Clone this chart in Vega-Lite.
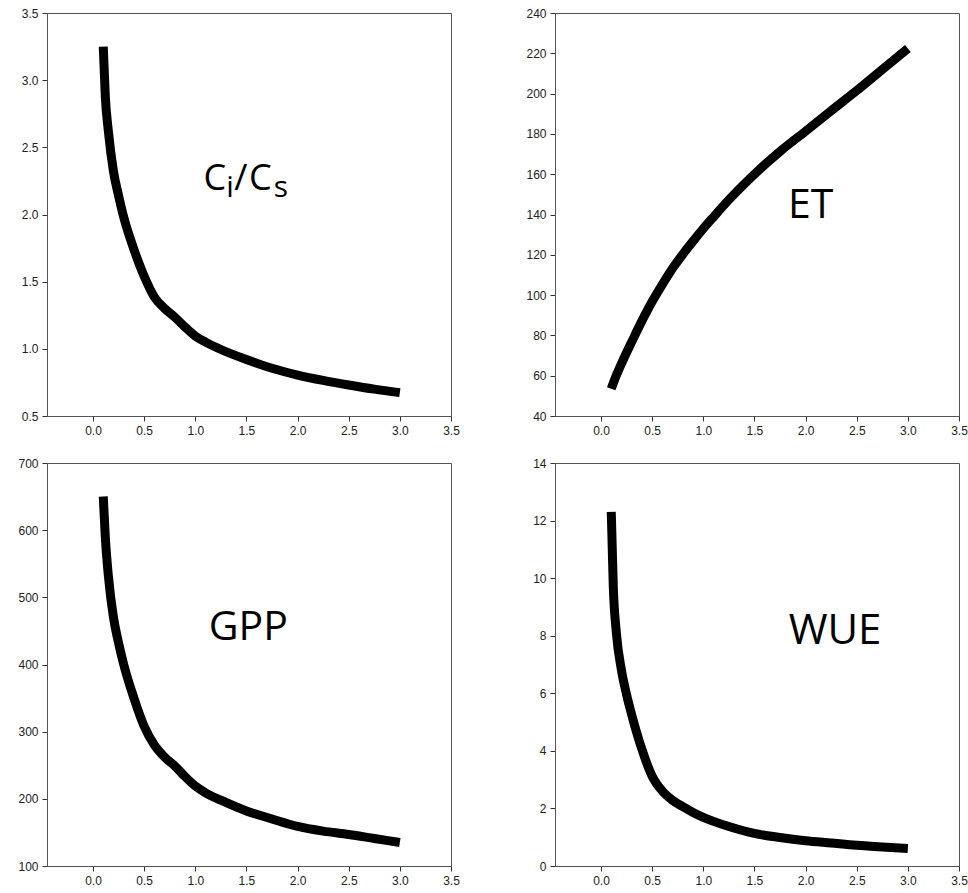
{
  "$schema": "https://vega.github.io/schema/vega-lite/v6.json",
  "background": "white",
  "padding": {"left": 17, "top": 6, "right": 0, "bottom": 0},
  "datasets": {
    "curves": [
      {"x": 0.1, "cics": 3.25, "gpp": 650, "et": 53.5, "wue": 12.3},
      {"x": 0.12, "cics": 2.88, "gpp": 590, "et": 56.3, "wue": 9.7},
      {"x": 0.15, "cics": 2.62, "gpp": 532, "et": 60.2, "wue": 8.1},
      {"x": 0.2, "cics": 2.32, "gpp": 470, "et": 66, "wue": 6.8},
      {"x": 0.25, "cics": 2.14, "gpp": 432, "et": 71.5, "wue": 5.95},
      {"x": 0.3, "cics": 1.98, "gpp": 400, "et": 76.8, "wue": 5.25},
      {"x": 0.4, "cics": 1.74, "gpp": 350, "et": 87.2, "wue": 4.05},
      {"x": 0.5, "cics": 1.54, "gpp": 308, "et": 96.8, "wue": 3.12},
      {"x": 0.6, "cics": 1.385, "gpp": 280, "et": 105.3, "wue": 2.6},
      {"x": 0.7, "cics": 1.3, "gpp": 262, "et": 113.3, "wue": 2.28},
      {"x": 0.8, "cics": 1.235, "gpp": 249, "et": 120.3, "wue": 2.06},
      {"x": 0.9, "cics": 1.162, "gpp": 233, "et": 126.8, "wue": 1.86},
      {"x": 1.0, "cics": 1.095, "gpp": 219, "et": 133, "wue": 1.69},
      {"x": 1.1, "cics": 1.05, "gpp": 209, "et": 138.8, "wue": 1.55},
      {"x": 1.25, "cics": 0.995, "gpp": 198, "et": 147.3, "wue": 1.37},
      {"x": 1.5, "cics": 0.92, "gpp": 182, "et": 160, "wue": 1.13},
      {"x": 1.75, "cics": 0.855, "gpp": 170, "et": 171.3, "wue": 0.99},
      {"x": 2.0, "cics": 0.805, "gpp": 159, "et": 181.3, "wue": 0.88},
      {"x": 2.25, "cics": 0.765, "gpp": 152, "et": 191.5, "wue": 0.8},
      {"x": 2.5, "cics": 0.731, "gpp": 147, "et": 201.5, "wue": 0.72},
      {"x": 2.75, "cics": 0.7, "gpp": 141, "et": 212, "wue": 0.66},
      {"x": 3.0, "cics": 0.674, "gpp": 135, "et": 222.4, "wue": 0.61}
    ]
  },
  "columns": 2,
  "spacing": {"row": 47, "column": 104},
  "bounds": "flush",
  "concat": [
    {
      "width": 404, "height": 403,
      "layer": [
        {
          "data": {"name": "curves"},
          "mark": {"type": "line", "color": "black", "strokeWidth": 9, "strokeCap": "butt", "strokeJoin": "round", "interpolate": "monotone"},
          "encoding": {
            "x": {"field": "x", "type": "quantitative", "scale": {"domain": [-0.45, 3.5], "nice": false, "zero": false}, "axis": {"values": [0, 0.5, 1, 1.5, 2, 2.5, 3, 3.5], "format": ".1f", "title": null, "labelFlush": false}},
            "y": {"field": "cics", "type": "quantitative", "scale": {"domain": [0.5, 3.5], "nice": false, "zero": false}, "axis": {"values": [0.5, 1, 1.5, 2, 2.5, 3, 3.5], "format": ".1f", "title": null}}
          }
        },
        {
          "data": {"values": [{"label": "C"}]},
          "mark": {"type": "text", "font": "Open Sans", "fontSize": 36, "align": "left", "baseline": "alphabetic", "color": "black"},
          "encoding": {"text": {"field": "label"}, "x": {"datum": 1.08}, "y": {"datum": 2.184}}
        },
        {
          "data": {"values": [{"label": "i"}]},
          "mark": {"type": "text", "font": "Open Sans", "fontSize": 30, "align": "left", "baseline": "alphabetic", "color": "black"},
          "encoding": {"text": {"field": "label"}, "x": {"datum": 1.303}, "y": {"datum": 2.132}}
        },
        {
          "data": {"values": [{"label": "/"}]},
          "mark": {"type": "text", "font": "Open Sans", "fontSize": 36, "align": "left", "baseline": "alphabetic", "color": "black"},
          "encoding": {"text": {"field": "label"}, "x": {"datum": 1.38}, "y": {"datum": 2.184}}
        },
        {
          "data": {"values": [{"label": "C"}]},
          "mark": {"type": "text", "font": "Open Sans", "fontSize": 36, "align": "left", "baseline": "alphabetic", "color": "black"},
          "encoding": {"text": {"field": "label"}, "x": {"datum": 1.526}, "y": {"datum": 2.184}}
        },
        {
          "data": {"values": [{"label": "s"}]},
          "mark": {"type": "text", "font": "Open Sans", "fontSize": 30, "align": "left", "baseline": "alphabetic", "color": "black"},
          "encoding": {"text": {"field": "label"}, "x": {"datum": 1.766}, "y": {"datum": 2.127}}
        }
      ]
    },
    {
      "width": 404, "height": 403,
      "layer": [
        {
          "data": {"name": "curves"},
          "mark": {"type": "line", "color": "black", "strokeWidth": 9, "strokeCap": "butt", "strokeJoin": "round", "interpolate": "monotone"},
          "encoding": {
            "x": {"field": "x", "type": "quantitative", "scale": {"domain": [-0.45, 3.5], "nice": false, "zero": false}, "axis": {"values": [0, 0.5, 1, 1.5, 2, 2.5, 3, 3.5], "format": ".1f", "title": null, "labelFlush": false}},
            "y": {"field": "et", "type": "quantitative", "scale": {"domain": [40, 240], "nice": false, "zero": false}, "axis": {"values": [40, 60, 80, 100, 120, 140, 160, 180, 200, 220, 240], "format": "d", "title": null}}
          }
        },
        {
          "data": {"values": [{"label": "ET"}]},
          "mark": {"type": "text", "font": "Open Sans", "fontSize": 41, "align": "center", "baseline": "alphabetic", "color": "black"},
          "encoding": {"text": {"field": "label"}, "x": {"datum": 2.049}, "y": {"datum": 138.3}}
        }
      ]
    },
    {
      "width": 404, "height": 403,
      "layer": [
        {
          "data": {"name": "curves"},
          "mark": {"type": "line", "color": "black", "strokeWidth": 9, "strokeCap": "butt", "strokeJoin": "round", "interpolate": "monotone"},
          "encoding": {
            "x": {"field": "x", "type": "quantitative", "scale": {"domain": [-0.45, 3.5], "nice": false, "zero": false}, "axis": {"values": [0, 0.5, 1, 1.5, 2, 2.5, 3, 3.5], "format": ".1f", "title": null, "labelFlush": false}},
            "y": {"field": "gpp", "type": "quantitative", "scale": {"domain": [100, 700], "nice": false, "zero": false}, "axis": {"values": [100, 200, 300, 400, 500, 600, 700], "format": "d", "title": null}}
          }
        },
        {
          "data": {"values": [{"label": "GPP"}]},
          "mark": {"type": "text", "font": "Open Sans", "fontSize": 41, "align": "center", "baseline": "alphabetic", "color": "black"},
          "encoding": {"text": {"field": "label"}, "x": {"datum": 1.518}, "y": {"datum": 437}}
        }
      ]
    },
    {
      "width": 404, "height": 403,
      "layer": [
        {
          "data": {"name": "curves"},
          "mark": {"type": "line", "color": "black", "strokeWidth": 9, "strokeCap": "butt", "strokeJoin": "round", "interpolate": "monotone"},
          "encoding": {
            "x": {"field": "x", "type": "quantitative", "scale": {"domain": [-0.45, 3.5], "nice": false, "zero": false}, "axis": {"values": [0, 0.5, 1, 1.5, 2, 2.5, 3, 3.5], "format": ".1f", "title": null, "labelFlush": false}},
            "y": {"field": "wue", "type": "quantitative", "scale": {"domain": [0, 14], "nice": false, "zero": false}, "axis": {"values": [0, 2, 4, 6, 8, 10, 12, 14], "format": "d", "title": null}}
          }
        },
        {
          "data": {"values": [{"label": "WUE"}]},
          "mark": {"type": "text", "font": "Open Sans", "fontSize": 42, "align": "center", "baseline": "alphabetic", "color": "black"},
          "encoding": {"text": {"field": "label"}, "x": {"datum": 2.288}, "y": {"datum": 7.7}}
        }
      ]
    }
  ],
  "config": {
    "view": {"stroke": "#555", "strokeWidth": 1},
    "axis": {
      "labelFont": "Liberation Sans",
      "labelFontSize": 12,
      "labelColor": "#222",
      "tickColor": "#333",
      "tickSize": 5,
      "labelPadding": 4,
      "domainColor": "#555",
      "grid": false,
      "labelOverlap": false,
      "labelBound": false
    }
  }
}
